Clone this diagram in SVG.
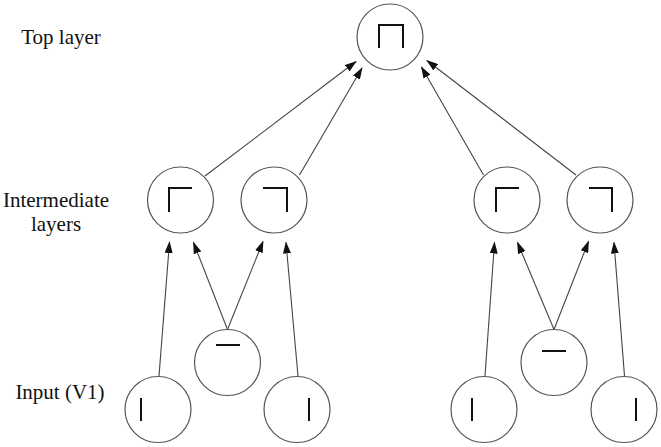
<svg xmlns="http://www.w3.org/2000/svg" width="661" height="447" viewBox="0 0 661 447">
<style>
.node circle{fill:#fff;stroke:#555;stroke-width:1.2}
.sym{fill:none;stroke:#111;stroke-width:2}
.edge{stroke:#444;stroke-width:1.1;fill:none;marker-end:url(#ah)}
.lbl{font-family:"Liberation Serif","Times New Roman",serif;font-size:21px;fill:#111;text-anchor:middle}
</style>
<defs>
<marker id="ah" markerWidth="12" markerHeight="8" refX="11" refY="4" orient="auto" markerUnits="userSpaceOnUse">
<path d="M0,0 L12,4 L0,8 z" fill="#111"/>
</marker>
</defs>
<rect width="661" height="447" fill="#fff"/>
<g id="labels">
<text class="lbl" x="61" y="44">Top layer</text>
<text class="lbl" x="56" y="207">Intermediate</text>
<text class="lbl" x="56" y="231">layers</text>
<text class="lbl" x="60" y="399">Input (V1)</text>
</g>
<g id="connectors">
<line class="edge" x1="159" y1="376" x2="169.5" y2="242"/>
<line class="edge" x1="227.5" y1="329.5" x2="193.5" y2="242.5"/>
<line class="edge" x1="227.5" y1="329.5" x2="263" y2="241.5"/>
<line class="edge" x1="298" y1="376" x2="286" y2="242.5"/>
<line class="edge" x1="485" y1="376" x2="494.5" y2="242.5"/>
<line class="edge" x1="554" y1="329.5" x2="517.5" y2="242.5"/>
<line class="edge" x1="554" y1="329.5" x2="588.5" y2="241.5"/>
<line class="edge" x1="624.5" y1="376" x2="614" y2="242.5"/>
<line class="edge" x1="205" y1="176" x2="356" y2="61.5"/>
<line class="edge" x1="299.5" y1="175" x2="362" y2="68"/>
<line class="edge" x1="483.5" y1="175" x2="421.5" y2="67"/>
<line class="edge" x1="576" y1="175" x2="427" y2="60.5"/>
</g>
<g id="top" class="node"><circle cx="390" cy="37" r="33"/><path class="sym" d="M379,48 V25 H403 V48"/></g>
<g id="int1" class="node"><circle cx="180.5" cy="200" r="33"/><path class="sym" d="M169,212 V188 H192"/></g>
<g id="int2" class="node"><circle cx="274" cy="200" r="33"/><path class="sym" d="M263,188 H287 V212"/></g>
<g id="int3" class="node"><circle cx="507" cy="200" r="33"/><path class="sym" d="M496,212 V188 H519"/></g>
<g id="int4" class="node"><circle cx="600" cy="200" r="33"/><path class="sym" d="M589,188 H612 V212"/></g>
<g id="in1" class="node"><circle cx="158" cy="409.5" r="33"/><path class="sym" d="M141,398 V421"/></g>
<g id="in2" class="node"><circle cx="227.5" cy="362.5" r="33"/><path class="sym" d="M216,345 H240"/></g>
<g id="in3" class="node"><circle cx="297" cy="409.5" r="33"/><path class="sym" d="M309,398 V421"/></g>
<g id="in4" class="node"><circle cx="484" cy="409.5" r="33"/><path class="sym" d="M472,398 V421"/></g>
<g id="in5" class="node"><circle cx="554" cy="362.5" r="33"/><path class="sym" d="M542,351 H566"/></g>
<g id="in6" class="node"><circle cx="624" cy="409.5" r="33"/><path class="sym" d="M636,398 V421"/></g>
</svg>
